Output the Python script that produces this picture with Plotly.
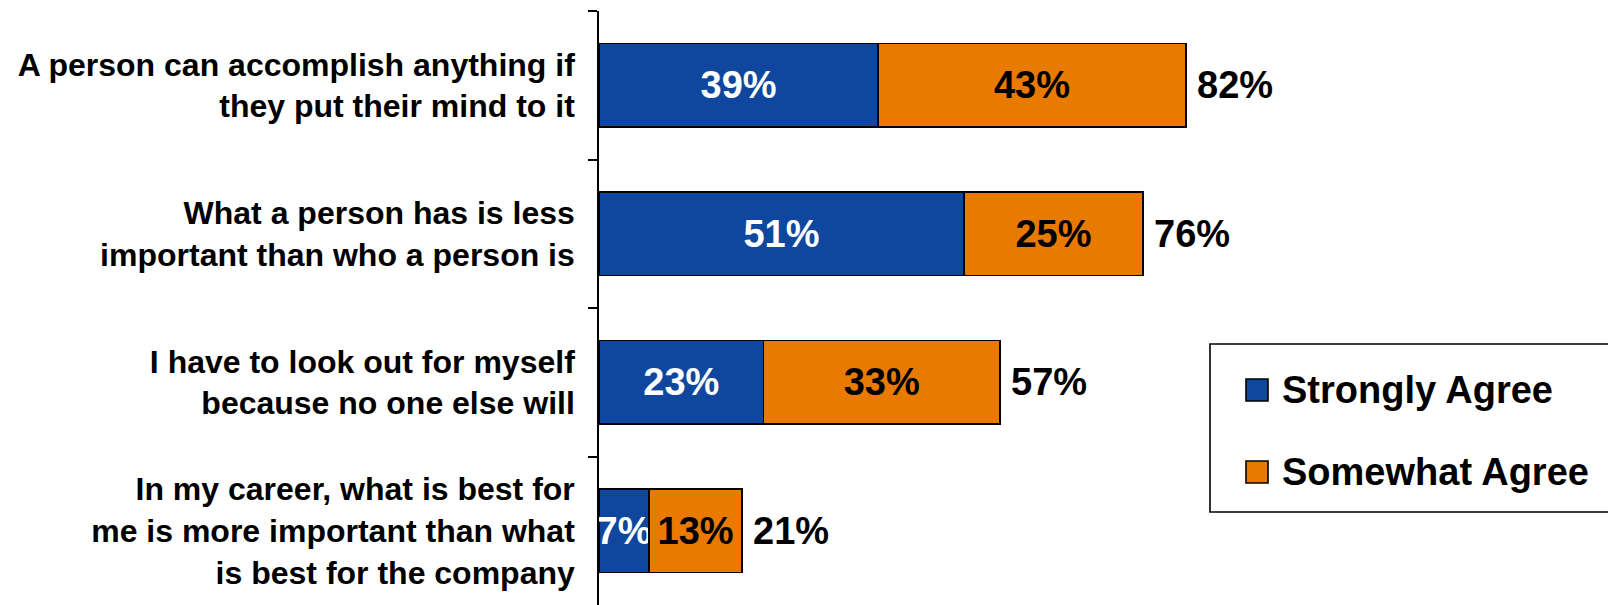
import plotly.graph_objects as go

categories = [
    "A person can accomplish anything if<br>they put their mind to it",
    "What a person has is less<br>important than who a person is",
    "I have to look out for myself<br>because no one else will",
    "In my career, what is best for<br>me is more important than what<br>is best for the company",
]
strongly = [39, 51, 23, 7]
somewhat = [43, 25, 33, 13]
totals = [82, 76, 57, 21]
series_names = ["Strongly Agree", "Somewhat Agree"]

BLUE = "#0E479D"
ORANGE = "#E87A00"
FONT = "Arial, Liberation Sans, sans-serif"

# plot-area geometry in pixels (for converting legend-box pixels to paper coords)
L, R, T, B, W, H = 599, 7, 11, 0, 1608, 605
PW, PH = W - L - R, H - T - B


def px(x):
    return (x - L) / PW


def py(y):
    return (H - B - y) / PH


fig = go.Figure()
fig.add_trace(go.Bar(
    y=categories, x=strongly, orientation="h", width=0.56, name=series_names[0],
    marker=dict(color=BLUE, line=dict(color="black", width=1.6)),
    text=[f"{v}%" for v in strongly], textposition="inside", insidetextanchor="middle",
    constraintext="none", cliponaxis=False, textangle=0,
    textfont=dict(family=FONT, size=38, color="white", weight="bold"),
    showlegend=False, hoverinfo="skip",
))
fig.add_trace(go.Bar(
    y=categories, x=somewhat, orientation="h", width=0.56, name=series_names[1],
    marker=dict(color=ORANGE, line=dict(color="black", width=1.6)),
    text=[f"{v}%" for v in somewhat], textposition="inside", insidetextanchor="middle",
    constraintext="none", cliponaxis=False, textangle=0,
    textfont=dict(family=FONT, size=38, color="black", weight="bold"),
    showlegend=False, hoverinfo="skip",
))

for c, s, o, t in zip(categories, strongly, somewhat, totals):
    fig.add_annotation(x=s + o, y=c, text=f"{t}%", showarrow=False, xanchor="left",
                       xshift=9, font=dict(family=FONT, size=38, color="black", weight="bold"))

# legend box
fig.add_shape(type="rect", xref="paper", yref="paper",
              x0=px(1210), x1=px(1630), y0=py(512), y1=py(344),
              line=dict(color="black", width=1.6), fillcolor="white", layer="below")
# legend entries
for name, col, yc in [(series_names[0], BLUE, 390), (series_names[1], ORANGE, 472)]:
    fig.add_shape(type="rect", xref="paper", yref="paper",
                  x0=px(1246), x1=px(1268), y0=py(yc + 11), y1=py(yc - 11),
                  line=dict(color="black", width=1.6), fillcolor=col)
    fig.add_annotation(xref="paper", yref="paper", x=px(1280), y=py(yc), text=name,
                       showarrow=False, xanchor="left", yanchor="middle",
                       font=dict(family=FONT, size=38, color="black", weight="bold"))

fig.update_layout(
    width=W, height=H,
    barmode="stack",
    showlegend=False,
    margin=dict(l=L, r=R, t=T, b=B),
    paper_bgcolor="white", plot_bgcolor="white",
    font=dict(family=FONT, size=32, color="black"),
    xaxis=dict(range=[0, 140], visible=False, fixedrange=True),
    yaxis=dict(type="category", autorange="reversed", tickson="boundaries",
               ticks="outside", ticklen=9, tickwidth=1.6, tickcolor="black",
               showline=True, linecolor="black", linewidth=1.6, showgrid=False,
               ticklabelstandoff=16, automargin=False, fixedrange=True,
               tickfont=dict(family=FONT, size=32, color="black", weight="bold")),
)

fig.write_html("out.html", config={"displayModeBar": False},
               post_script="document.body.style.margin='0';")
